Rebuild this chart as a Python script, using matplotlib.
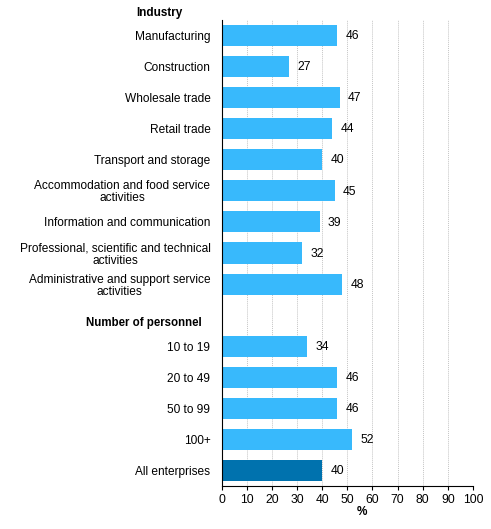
import matplotlib
matplotlib.use("Agg")
import matplotlib.pyplot as plt

plt.rcParams['font.family'] = ['Liberation Sans', 'DejaVu Sans']

industry_header = "Industry"
industry_labels = [
    "Manufacturing",
    "Construction",
    "Wholesale trade",
    "Retail trade",
    "Transport and storage",
    "Accommodation and food service\nactivities",
    "Information and communication",
    "Professional, scientific and technical\nactivities",
    "Administrative and support service\nactivities",
]
industry_values = [46, 27, 47, 44, 40, 45, 39, 32, 48]

personnel_header = "Number of personnel"
personnel_labels = ["10 to 19", "20 to 49", "50 to 99", "100+"]
personnel_values = [34, 46, 46, 52]

total_label = "All enterprises"
total_value = 40

x_ticks = list(range(0, 101, 10))
x_label = "%"

light = "#38b9fc"
dark = "#0072ae"

W, H = 491, 529
fig = plt.figure(figsize=(W / 100, H / 100), dpi=100)
ax = fig.add_axes([221.5 / W, 1 - 486 / H, (473 - 221.5) / W, (486 - 20) / H])

labels = industry_labels + [""] + personnel_labels + [total_label]
values = industry_values + [None] + personnel_values + [total_value]
colors = [light] * len(industry_values) + [None] + [light] * len(personnel_values) + [dark]

for i, (v, c) in enumerate(zip(values, colors)):
    if v is None:
        continue
    ax.barh(i, v, height=0.68, color=c, zorder=3)
    ax.annotate(str(v), (v, i), xytext=(6, -0.5), textcoords="offset points",
                ha="left", va="center", fontsize=8.7, color="#000000")

ax.set_yticks(range(len(labels)))
ax.set_yticklabels(labels, fontsize=8.6, multialignment="center", linespacing=1.0)
ax.set_ylim(len(labels) - 0.5, -0.5)
ax.set_xlim(0, 100)
ax.set_xticks(x_ticks)
ax.set_xticklabels([str(t) for t in x_ticks], fontsize=8.7)
ax.tick_params(axis="y", length=0, pad=8)
ax.tick_params(axis="x", length=3, pad=3, color="#000000")

ax.grid(axis="x", linestyle=(0, (1, 1)), color="#c4c4c4", linewidth=0.7, zorder=0)
for s in ["top", "right"]:
    ax.spines[s].set_visible(False)
ax.spines["left"].set_color("#000000")
ax.spines["bottom"].set_color("#000000")
ax.spines["left"].set_zorder(4)

ax.text((362 - 221.5) / (473 - 221.5), -0.055, x_label, transform=ax.transAxes,
        ha="center", va="center", fontsize=8.5, fontweight="bold")

fig.text(136 / W, 1 - 13 / H, industry_header, ha="left", va="center",
         fontsize=8.5, fontweight="bold")
fig.text(86 / W, 1 - 323 / H, personnel_header, ha="left", va="center",
         fontsize=8.3, fontweight="bold")

fig.savefig("out.png", dpi=100)
